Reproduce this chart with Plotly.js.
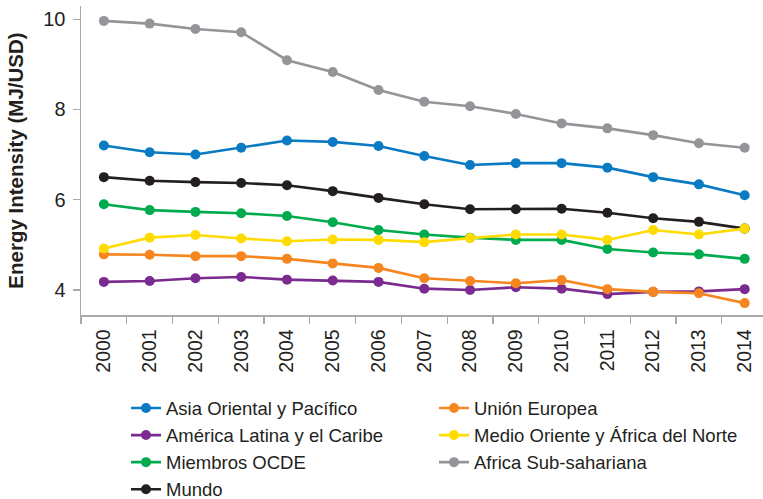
<!DOCTYPE html>
<html>
<head>
<meta charset="utf-8">
<script src="https://cdn.plot.ly/plotly-3.0.1.min.js"></script>
<style>html,body{margin:0;padding:0;background:#fff;}#chart{width:763px;height:499px;}</style>
</head>
<body>
<div id="chart"></div>
<script>
const years = ["2000","2001","2002","2003","2004","2005","2006","2007","2008","2009","2010","2011","2012","2013","2014"];

const asiaOriental = [7.20,7.05,7.00,7.15,7.31,7.28,7.19,6.97,6.77,6.81,6.81,6.71,6.50,6.34,6.10];
const americaLatina = [4.18,4.20,4.26,4.29,4.23,4.21,4.18,4.03,4.00,4.06,4.03,3.91,3.96,3.97,4.02];
const miembrosOCDE = [5.90,5.77,5.73,5.70,5.64,5.50,5.33,5.23,5.16,5.11,5.11,4.91,4.83,4.79,4.69];
const mundo = [6.50,6.42,6.39,6.37,6.32,6.19,6.04,5.90,5.79,5.79,5.80,5.71,5.59,5.51,5.36];
const unionEuropea = [4.79,4.78,4.75,4.75,4.69,4.59,4.49,4.26,4.20,4.15,4.22,4.02,3.96,3.93,3.71];
const medioOriente = [4.92,5.16,5.22,5.14,5.08,5.12,5.11,5.06,5.15,5.23,5.23,5.11,5.33,5.23,5.36];
const africaSub = [9.96,9.90,9.78,9.71,9.09,8.83,8.43,8.17,8.07,7.90,7.69,7.58,7.43,7.25,7.15];

const yTicks = [4,6,8,10];

function series(name, y, color, rank){
  return {
    type: 'scatter', mode: 'lines+markers', name: name, x: years, y: y,
    line: {color: color, width: 2.6}, marker: {color: color, size: 10},
    legendrank: rank, hoverinfo: 'x+y+name'
  };
}

const data = [
  series('Asia Oriental y Pacífico', asiaOriental, '#0a7ac3', 1),
  series('América Latina y el Caribe', americaLatina, '#7b2a8f', 3),
  series('Miembros OCDE', miembrosOCDE, '#00ab4e', 5),
  series('Mundo', mundo, '#231f20', 7),
  series('Unión Europea', unionEuropea, '#f6861f', 2),
  series('Medio Oriente y África del Norte', medioOriente, '#ffdb00', 4),
  series('Africa Sub-sahariana', africaSub, '#939598', 6)
];

const fontFam = '"Liberation Sans", Arial, Helvetica, sans-serif';

const layout = {
  width: 763, height: 499,
  margin: {l: 81, r: 0, t: 6, b: 184},
  paper_bgcolor: '#ffffff', plot_bgcolor: '#ffffff',
  font: {family: fontFam, color: '#231f20', size: 19},
  showlegend: true,
  xaxis: {
    type: 'category', range: [-0.5, 14.4],
    showline: true, linecolor: '#a7a9ac', linewidth: 1.5,
    showgrid: false, zeroline: false,
    ticks: 'outside', tickson: 'boundaries', ticklen: 7, tickcolor: '#a7a9ac', tickwidth: 1.2,
    tickangle: -90, tickfont: {size: 19.5, color: '#231f20'},
    ticklabelstandoff: 5
  },
  yaxis: {
    range: [3.447, 10.29],
    tickvals: yTicks, ticktext: yTicks.map(String),
    showline: true, linecolor: '#a7a9ac', linewidth: 1.5,
    showgrid: false, zeroline: false,
    ticks: 'outside', ticklen: 7, tickcolor: '#a7a9ac', tickwidth: 1.2,
    tickfont: {size: 20, color: '#231f20'},
    ticklabelstandoff: 3,
    title: {text: 'Energy Intensity (MJ/USD)', font: {size: 20.5, weight: 'bold', color: '#231f20'}, standoff: 14}
  },
  legend: {
    orientation: 'h', xref: 'container', yref: 'container',
    x: 126/763, y: (499-389.5)/499, xanchor: 'left', yanchor: 'top',
    entrywidth: 263, entrywidthmode: 'pixels',
    font: {size: 18.5, color: '#231f20'},
    bgcolor: 'rgba(0,0,0,0)', borderwidth: 0, traceorder: 'normal'
  }
};

Plotly.newPlot('chart', data, layout, {displayModeBar: false, staticPlot: true});
</script>
</body>
</html>
